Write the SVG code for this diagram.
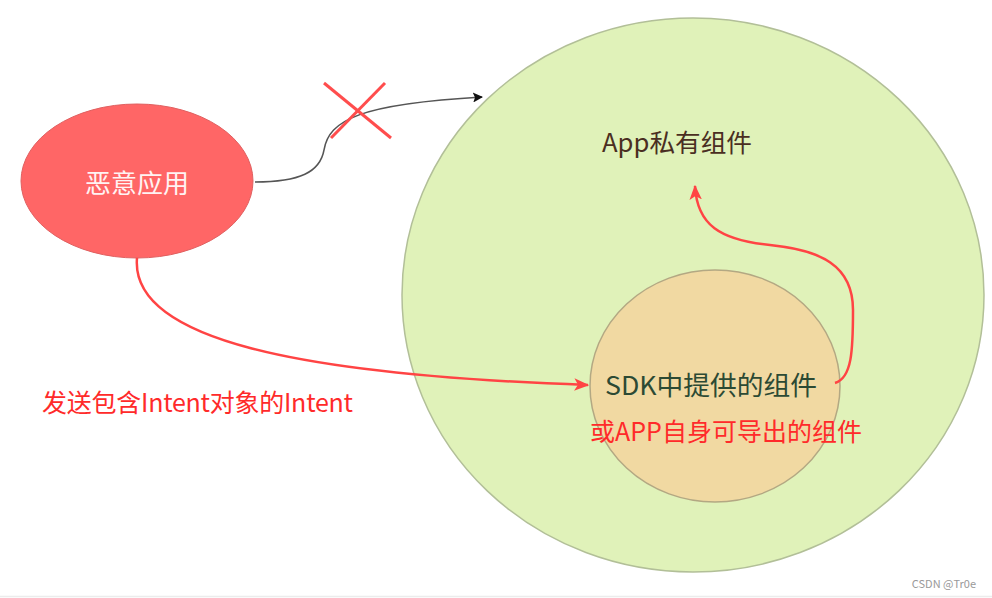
<svg xmlns="http://www.w3.org/2000/svg" width="992" height="598" viewBox="0 0 992 598">
<style>
  text { font-family: "Noto Sans CJK SC", "Liberation Sans", sans-serif; }
  .red { fill: #ff2a2a; font-size: 25px; }
  .conn-red { fill: none; stroke: #ff4444; stroke-width: 2.5; }
  .conn-gray { fill: none; stroke: #555; stroke-width: 1.5; }
</style>
<defs>
  <marker id="arrRed2" viewBox="0 0 12 10" refX="11" refY="5" markerWidth="15" markerHeight="13" markerUnits="userSpaceOnUse" orient="auto">
    <path d="M0,0 L12,5 L0,10 L3,5 Z" fill="#ff4444"/>
  </marker>
  <marker id="arrGray" viewBox="0 0 10 10" refX="9" refY="5" markerWidth="11" markerHeight="10" markerUnits="userSpaceOnUse" orient="auto">
    <path d="M0,0 L10,5 L0,10 L2,5 Z" fill="#111"/>
  </marker>
</defs>
<rect width="992" height="598" fill="#ffffff"/>
<line x1="0" y1="596.5" x2="992" y2="596.5" stroke="#ececec" stroke-width="1.5"/>

<g id="app-circle">
  <ellipse cx="693" cy="295" rx="291" ry="277" fill="#e0f2b9" stroke="#b2bf98" stroke-width="1.5"/>
  <text x="677" y="152" text-anchor="middle" font-size="25" fill="#4a2e22" textLength="150" lengthAdjust="spacingAndGlyphs">App私有组件</text>
</g>

<g id="sdk-circle">
  <ellipse cx="715" cy="386" rx="125" ry="116" fill="#f1d9a2" stroke="#b3a883" stroke-width="1.5"/>
  <text x="711" y="395" text-anchor="middle" font-size="26" fill="#2c4a34" textLength="212" lengthAdjust="spacingAndGlyphs">SDK中提供的组件</text>
</g>

<g id="malicious-app">
  <ellipse cx="137" cy="181" rx="116" ry="77" fill="#ff6666" stroke="#e06060" stroke-width="1"/>
  <text x="137" y="193" text-anchor="middle" font-size="26" fill="#fff3f3">恶意应用</text>
</g>

<g id="connectors">
  <path class="conn-gray" d="M255,182 C300,182 320,172 324,150 C329,120 360,104 482,97" marker-end="url(#arrGray)"/>
  <path class="conn-red" d="M137,258 C130,340 300,375 588,385" marker-end="url(#arrRed2)"/>
  <path class="conn-red" d="M835,383 C852,378 853,350 853,310 C853,265 820,250 770,245 C720,240 697,225 695,186" marker-end="url(#arrRed2)"/>
</g>

<g id="cross">
  <line x1="324" y1="83" x2="391" y2="138" stroke="#ff4d4d" stroke-width="3"/>
  <line x1="385" y1="83" x2="331" y2="138" stroke="#ff4d4d" stroke-width="3"/>
</g>

<g id="labels">
  <text class="red" x="42" y="412" textLength="311" lengthAdjust="spacing">发送包含Intent对象的Intent</text>
  <text class="red" x="590" y="441" textLength="272" lengthAdjust="spacing">或APP自身可导出的组件</text>
  <text x="976" y="588" text-anchor="end" font-size="11" fill="#999" font-family="Liberation Sans, sans-serif">CSDN @Tr0e</text>
</g>
</svg>
